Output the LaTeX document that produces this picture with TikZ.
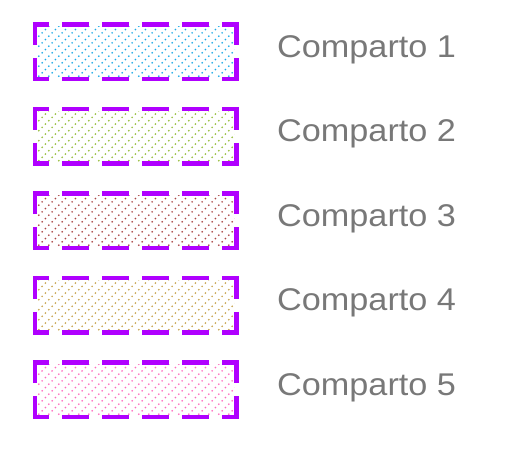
\documentclass[tikz,border=0pt]{standalone}
\usepackage{fontspec}
\setmainfont{Liberation Sans}
\definecolor{bordercol}{RGB}{176,0,255}
\definecolor{txtcol}{RGB}{120,120,120}
\definecolor{fillA}{RGB}{30,170,230}
\definecolor{fillB}{RGB}{150,190,60}
\definecolor{fillC}{RGB}{170,70,70}
\definecolor{fillD}{RGB}{200,165,80}
\definecolor{fillE}{RGB}{255,110,190}
\tikzset{
  hedge/.style={draw=bordercol,line width=4.5pt,dash pattern=on 26.7pt off 13.3pt,dash phase=10.33pt},
  vedge/.style={draw=bordercol,line width=4.5pt,dash pattern=on 26.7pt off 13.3pt,dash phase=3.83pt},
  dotline/.style={line width=1.4pt,dash pattern=on 1.4pt off 3.31pt},
  label/.style={anchor=base west,inner sep=0pt,text=txtcol,font=\fontsize{31.4}{36}\selectfont}
}
\begin{document}
\begin{tikzpicture}[x=1pt,y=-1pt]
\useasboundingbox (0,0) rectangle (509,450);
\foreach \i/\col in {0/fillA,1/fillB,2/fillC,3/fillD,4/fillE}{
  \pgfmathsetmacro{\yt}{24.5+84.5*\i}
  \pgfmathsetmacro{\yb}{\yt+54.5}
  \begin{scope}
    \clip (37,\yt+2) rectangle (234.5,\yb-2);
    \foreach \k in {-70,-60,...,220}{
      \draw[dotline,draw=\col] (35+\k,\yb+1) -- ++(70,-70);
    }
  \end{scope}
  \coordinate (tl\i) at (32.75,\yt);
  \coordinate (tr\i) at (238.75,\yt);
  \coordinate (bl\i) at (32.75,\yb);
  \coordinate (br\i) at (238.75,\yb);
  \coordinate (lt\i) at (35,\yt-2.25);
  \coordinate (lb\i) at (35,\yb+2.25);
  \coordinate (rt\i) at (236.5,\yt-2.25);
  \coordinate (rb\i) at (236.5,\yb+2.25);
  \draw[hedge] (tl\i) -- (tr\i);
  \draw[hedge] (bl\i) -- (br\i);
  \draw[vedge] (lt\i) -- (lb\i);
  \draw[vedge] (rt\i) -- (rb\i);
  \pgfmathtruncatemacro{\n}{\i+1}
  \node[label] (t\i) at (277,\yt+32.5) {\scalebox{1.09}[1]{Comparto \n}};
}
\end{tikzpicture}
\end{document}
